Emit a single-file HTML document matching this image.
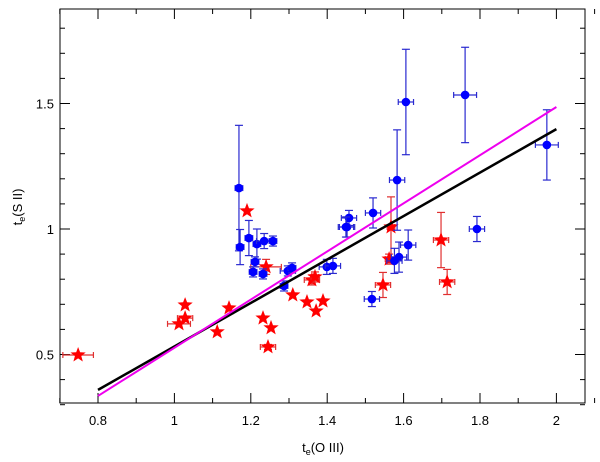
<!DOCTYPE html>
<html><head><meta charset="utf-8"><style>
body{margin:0;background:#fff;}
svg{display:block;font-family:"Liberation Sans",sans-serif;}
</style></head><body>
<svg id="chart" width="600" height="462"></svg>
<script>
const blueX=[1.169,1.172,1.195,1.216,1.235,1.258,1.211,1.232,1.206,1.287,1.297,1.308,1.399,1.415,1.452,1.457,1.606,1.761,1.975,1.583,1.52,1.449,1.792,1.612,1.588,1.517,1.576];
const blueY=[1.163,0.928,0.964,0.94,0.952,0.952,0.869,0.821,0.829,0.773,0.833,0.845,0.849,0.853,1.008,1.044,1.506,1.534,1.335,1.195,1.064,1.008,1.0,0.936,0.888,0.721,0.873];
const blueEY=[0.25,0.07,0.07,0.06,0.03,0.02,0.02,0.02,0.02,0.02,0.02,0.02,0.03,0.03,0.04,0.03,0.21,0.19,0.14,0.2,0.06,0.04,0.05,0.06,0.06,0.03,0.05];
const blueEX=[0.01,0.01,0.01,0.01,0.02,0.01,0.01,0.01,0.01,0.01,0.02,0.01,0.02,0.02,0.02,0.02,0.02,0.03,0.03,0.02,0.02,0.02,0.02,0.02,0.02,0.02,0.02];
const redX=[1.19,1.24,1.028,1.028,1.012,1.112,1.143,1.232,1.253,1.245,1.31,1.347,1.389,1.371,1.36,1.368,0.748,1.567,1.562,1.546,1.698,1.714];
const redY=[1.072,0.849,0.697,0.645,0.622,0.59,0.685,0.645,0.606,0.53,0.737,0.709,0.713,0.673,0.797,0.809,0.498,1.008,0.88,0.777,0.956,0.789];
const redEY=[0,0.03,0,0,0,0,0,0,0,0.01,0,0,0,0,0.02,0.02,0,0.12,0.02,0.05,0.11,0.05];
const redEX=[0,0.04,0,0.02,0.03,0,0,0,0,0.02,0,0,0,0,0.02,0.01,0.04,0.01,0.01,0.02,0.02,0.02];
const fitBlack=[[0.8,0.359],[2.0,1.398]];
const fitMagenta=[[0.8,0.335],[2.0,1.486]];
const xTicks=[0.8,1,1.2,1.4,1.6,1.8,2];
const xTickLabels=["0.8","1","1.2","1.4","1.6","1.8","2"];
const yTicks=[0.5,1,1.5];
const yTickLabels=["0.5","1","1.5"];

const L=60,R=585,T=9,B=403;
const X=v=>98+(v-0.8)*382;
const Y=v=>229-(v-1)*251;
const svg=document.getElementById('chart');
const NS='http://www.w3.org/2000/svg';
function mk(tag,attrs,parent){const e=document.createElementNS(NS,tag);for(const k in attrs)e.setAttribute(k,attrs[k]);(parent||svg).appendChild(e);return e;}

const frame=mk('rect',{x:L,y:T,width:R-L,height:B-T,fill:'none',stroke:'#000','stroke-width':1});



for(let v=0.7;v<=2.101;v+=0.1){const px=X(v);const major=xTicks.some(t=>Math.abs(t-v)<1e-6);const len=major?10:5;
 const t1=mk('line',{x1:px,x2:px,y1:B,y2:B-len,stroke:'#000'});
 const t2=mk('line',{x1:px,x2:px,y1:T,y2:T+len,stroke:'#000'});}
for(let v=0.3;v<=1.85;v+=0.1){const py=Y(v);const major=yTicks.some(t=>Math.abs(t-v)<1e-6);const len=major?10:5;
 const t1=mk('line',{x1:L,x2:L+len,y1:py,y2:py,stroke:'#000'});
 const t2=mk('line',{x1:R,x2:R-len,y1:py,y2:py,stroke:'#000'});}
xTicks.forEach((v,i)=>{const t=mk('text',{x:X(v),y:B+22,'text-anchor':'middle','font-size':13});t.textContent=xTickLabels[i];
 });
yTicks.forEach((v,i)=>{const t=mk('text',{x:L-6,y:Y(v)+5,'text-anchor':'end','font-size':13});t.textContent=yTickLabels[i];
 });

const xt=mk('text',{x:323,y:452,'text-anchor':'middle','font-size':13});
xt.innerHTML='t<tspan font-size="9" dy="3">e</tspan><tspan dy="-3">(O III)</tspan>';


const yt=mk('text',{x:0,y:0,'text-anchor':'middle','font-size':13,transform:'translate(22,207) rotate(-90)'});
yt.innerHTML='t<tspan font-size="9" dy="3">e</tspan><tspan dy="-3">(S II)</tspan>';



function errbars(x,y,ex,ey,col,name){const g=mk('g',{stroke:col,'stroke-width':1.2});
 
 
 if(ey>0){const y1=Y(y+ey),y2=Y(y-ey),px=X(x);mk('line',{x1:px,x2:px,y1:y1,y2:y2},g);mk('line',{x1:px-4,x2:px+4,y1:y1,y2:y1},g);mk('line',{x1:px-4,x2:px+4,y1:y2,y2:y2},g);}
 if(ex>0){const x1=X(x-ex),x2=X(x+ex),py=Y(y);mk('line',{x1:x1,x2:x2,y1:py,y2:py},g);mk('line',{x1:x1,x2:x1,y1:py-3,y2:py+3},g);mk('line',{x1:x2,x2:x2,y1:py-3,y2:py+3},g);}}

function starPts(cx,cy,r){let p=[];for(let i=0;i<10;i++){const a=-Math.PI/2+i*Math.PI/5;const rr=i%2?r*0.42:r;p.push((cx+rr*Math.cos(a)).toFixed(1)+','+(cy+rr*Math.sin(a)).toFixed(1));}return p.join(' ');}

redX.forEach((x,i)=>{errbars(x,redY[i],redEX[i],redEY[i],'#e03030','red-errorbar');
 const s=mk('polygon',{points:starPts(X(x),Y(redY[i]),8),fill:'#ff0000'});
 
 });
blueX.forEach((x,i)=>{errbars(x,blueY[i],blueEX[i],blueEY[i],'#2a2ad0','blue-errorbar');
 const c=mk('circle',{cx:X(x),cy:Y(blueY[i]),r:4.3,fill:'#0000ff'});
 
 });

const lb=mk('line',{x1:X(fitBlack[0][0]),y1:Y(fitBlack[0][1]),x2:X(fitBlack[1][0]),y2:Y(fitBlack[1][1]),stroke:'#000','stroke-width':2.5});


const lm=mk('line',{x1:X(fitMagenta[0][0]),y1:Y(fitMagenta[0][1]),x2:X(fitMagenta[1][0]),y2:Y(fitMagenta[1][1]),stroke:'#ee00ee','stroke-width':2});


</script>
</body></html>
